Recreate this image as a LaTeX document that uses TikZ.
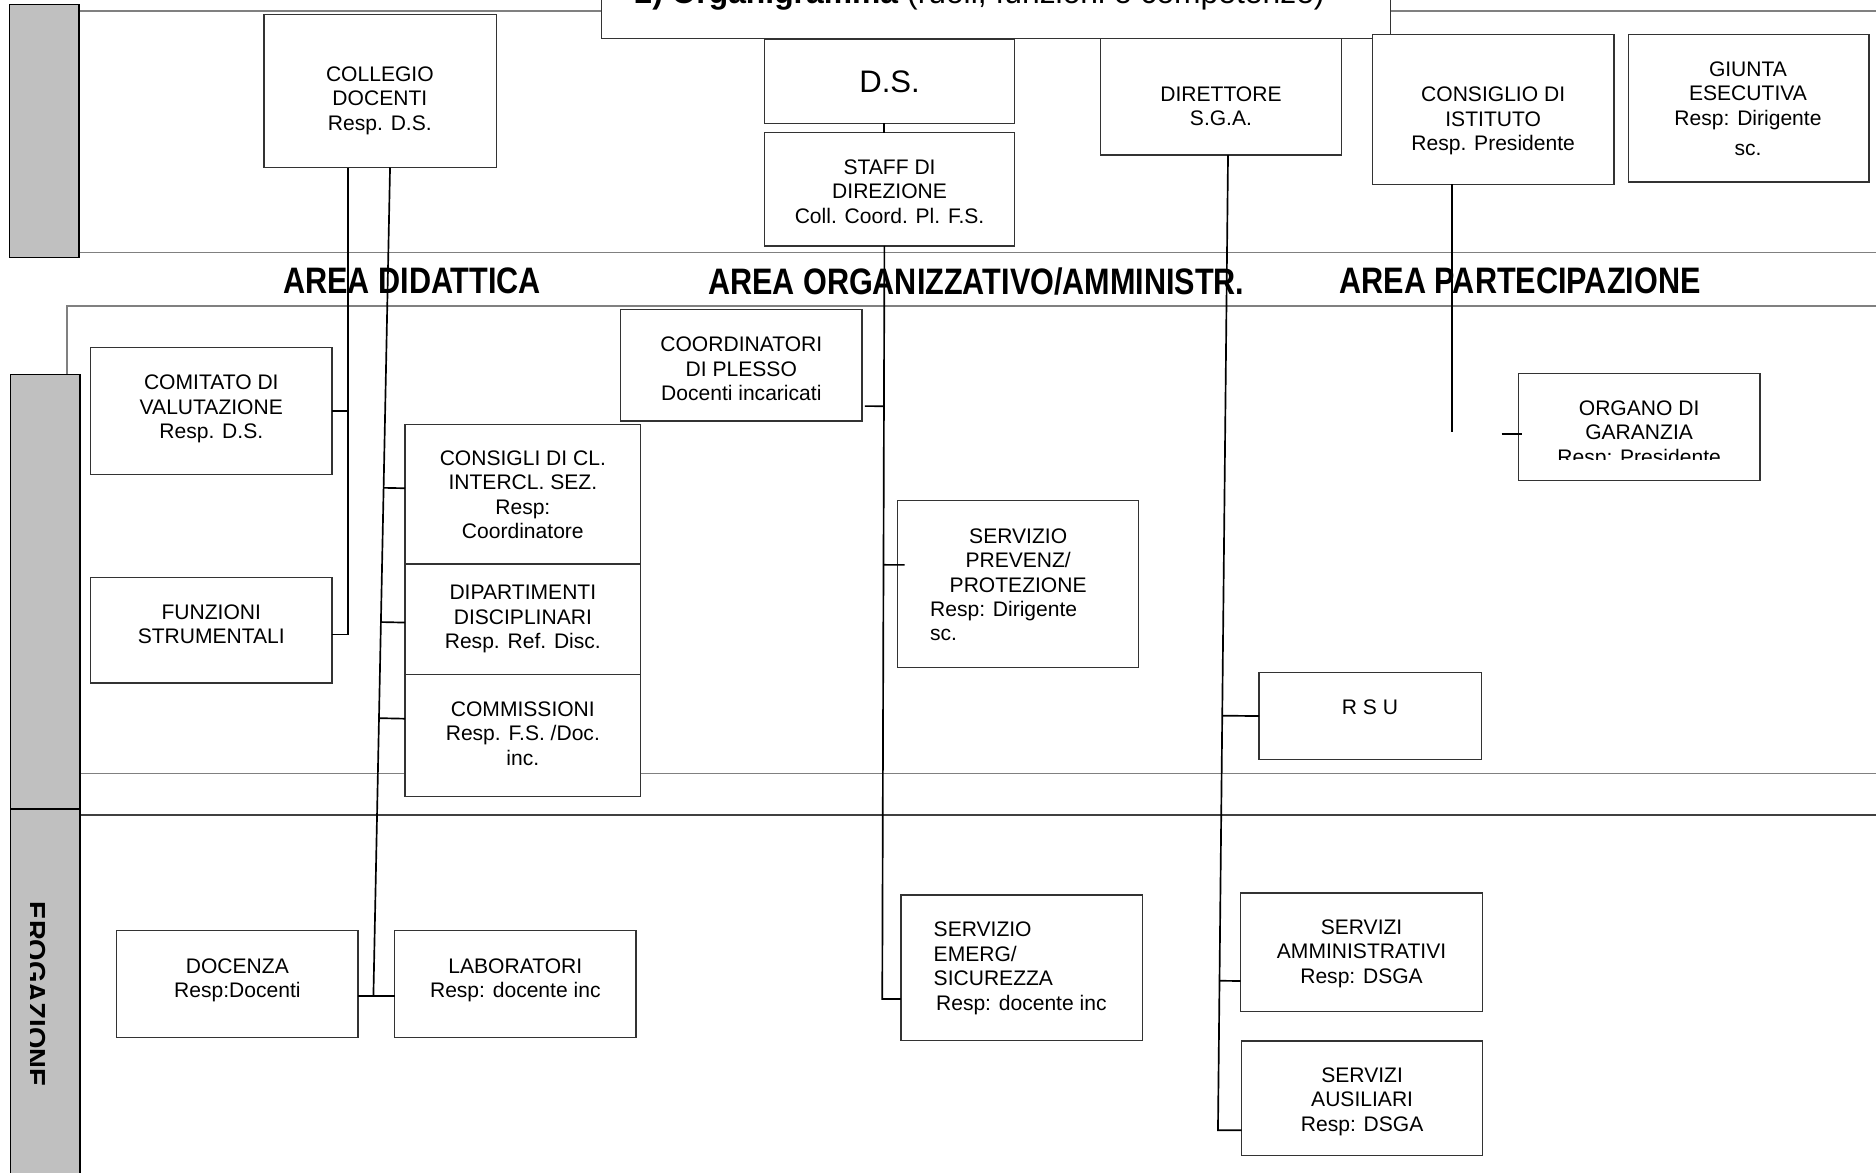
\documentclass[tikz,border=0pt]{standalone}
\usepackage{fontspec}
\usepackage{graphicx}
\setmainfont{Liberation Sans}
\usetikzlibrary{calc}
\definecolor{barfill}{HTML}{C0C0C0}
\tikzset{
  bx/.style={draw=black!80, line width=0.55pt, fill=white, inner sep=0pt, outer sep=0pt},
  lbl/.style={anchor=base, align=center, inner sep=0pt, font=\fontsize{8.8}{10.2}\selectfont},
  lbll/.style={anchor=base west, align=left, inner sep=0pt, font=\fontsize{8.8}{10.2}\selectfont},
  conn/.style={draw=black, line width=0.7pt},
  band/.style={draw=black!50, line width=0.7pt},
  bandd/.style={draw=black!75, line width=0.7pt},
  bar/.style={fill=barfill, draw=black, line width=0.6pt},
  area/.style={font=\fontsize{15.4}{16}\selectfont\bfseries, inner sep=0pt},
}
\newcommand\mkbox[5]{\node[bx, minimum width={(#4-#2)*0.5pt}, minimum height={(#5-#3)*0.5pt}] (#1) at ({(#2+#4)/2},{(#3+#5)/2}) {};}
\begin{document}
\begin{tikzpicture}[x=0.5pt,y=-0.5pt]
\useasboundingbox (0,0) rectangle (1568,980);
\fill[white] (0,0) rectangle (1568,980);
% band lines
\draw[band] (66,9.2) -- (1573,9.2);
\draw[band] (66,211) -- (1573,211);
\draw[band] (56,313) -- (56,256) -- (1573,256);
\draw[band] (67,646.5) -- (1573,646.5);
\draw[bandd] (67,681) -- (1573,681);
% grey side bars
\draw[bar] (8,3.9) rectangle (66,215);
\draw[bar] (9,313) rectangle (67,676);
\draw[bar] (9,676) rectangle (67,990);
\begin{scope}
\clip (25.5,676) rectangle (67,980);
\node[anchor=base, rotate=-90, inner sep=0pt, font=\fontsize{11.5}{12}\selectfont\bfseries] (erog) at (22,831) {EROGAZIONE};
\end{scope}
% title
\mkbox{titlebox}{503}{-10}{1162}{32}
\node[anchor=base west, inner sep=0pt, font=\fontsize{13.3}{14}\selectfont] (title) at (530,3) {\textbf{2) Organigramma} (ruoli, funzioni e competenze)};
% boxes
\mkbox{collegio}{220.6}{12.3}{414.8}{140}
\mkbox{ds}{639}{33}{848}{103}
\mkbox{staff}{639}{111}{848}{205.5}
\mkbox{direttore}{920}{32}{1121}{129.6}
\mkbox{consiglio}{1147}{29}{1349}{154}
\mkbox{giunta}{1361}{28.7}{1562}{152}
\mkbox{comitato}{75.7}{290.5}{277.6}{396.4}
\mkbox{funzioni}{75.7}{482.5}{277.6}{570.8}
\mkbox{consigli}{338.5}{354.7}{535.5}{471.5}
\mkbox{dipart}{338.5}{471.5}{535.5}{564}
\mkbox{commiss}{338.5}{564}{535.5}{665.8}
\mkbox{coord}{518.7}{258.5}{720.5}{352}
\mkbox{prevenz}{750}{418.5}{951.8}{557.8}
\mkbox{rsu}{1052.4}{562}{1238}{635}
\mkbox{organo}{1269.3}{312.3}{1471}{401.5}
\mkbox{docenza}{97.4}{778}{299.3}{867}
\mkbox{labor}{329.8}{778}{531.7}{867}
\mkbox{emerg}{753}{748}{954.8}{869.6}
\mkbox{ammin}{1037}{746.5}{1239}{845.4}
\mkbox{ausil}{1037.7}{870}{1239.3}{966}
% texts (anchor = baseline of the last line)
\node[lbl] (collegio-t) at (317.5,108.9) {COLLEGIO\\DOCENTI\\Resp. D.S.};
\node[inner sep=0pt, font=\fontsize{13}{14}\selectfont] (ds-t) at (743.5,68) {D.S.};
\node[lbl] (staff-t) at (743.5,186.4) {STAFF DI\\DIREZIONE\\Coll. Coord. Pl. F.S.};
\node[lbl] (direttore-t) at (1020.5,105.3) {DIRETTORE\\S.G.A.};
\node[lbl] (consiglio-t) at (1248,125.9) {CONSIGLIO DI\\ISTITUTO\\Resp. Presidente};
\node[lbl] (giunta-t) at (1461,130.2) {GIUNTA\\ESECUTIVA\\Resp: Dirigente\\[2.5pt]sc.};
\node[lbl] (comitato-t) at (176.6,366.6) {COMITATO DI\\VALUTAZIONE\\Resp. D.S.};
\node[lbl] (funzioni-t) at (176.6,537.9) {FUNZIONI\\STRUMENTALI};
\node[lbl] (consigli-t) at (437,450.3) {CONSIGLI DI CL.\\INTERCL. SEZ.\\Resp:\\Coordinatore};
\node[lbl] (dipart-t) at (437,542.1) {DIPARTIMENTI\\DISCIPLINARI\\Resp. Ref. Disc.};
\node[lbl] (commiss-t) at (437,639.5) {COMMISSIONI\\Resp. F.S. /Doc.\\inc.};
\node[lbl] (coord-t) at (619.6,334.9) {COORDINATORI\\DI PLESSO\\Docenti incaricati};
\node[lbl] (prevenz-t) at (851,495.1) {SERVIZIO\\PREVENZ/\\PROTEZIONE};
\node[lbll] (prevenz-r) at (777,535.7) {Resp: Dirigente\\sc.};
\node[lbl] (rsu-t) at (1145,597.3) {R S U};
\begin{scope}
\clip (1269.3,312.3) rectangle (1471,383.7);
\node[lbl] (organo-t) at (1370,388.1) {ORGANO DI\\GARANZIA\\Resp: Presidente};
\end{scope}
\node[lbl] (docenza-t) at (198.4,833.7) {DOCENZA\\Resp:Docenti};
\node[lbl] (labor-t) at (430.7,833.7) {LABORATORI\\Resp: docente inc};
\node[lbll] (emerg-t) at (780,823.9) {SERVIZIO\\EMERG/\\SICUREZZA};
\node[lbll] (emerg-r) at (782,844.3) {Resp: docente inc};
\node[lbl] (ammin-t) at (1138,821.7) {SERVIZI\\AMMINISTRATIVI\\Resp: DSGA};
\node[lbl] (ausil-t) at (1138.5,945.6) {SERVIZI\\AUSILIARI\\Resp: DSGA};
% area labels
\node[area] (areaD) at (344.5,235) {\scalebox{0.83}[1]{AREA DIDATTICA}};
\node[area] (areaO) at (816,235) {\scalebox{0.83}[1]{AREA ORGANIZZATIVO/AMMINISTR.}};
\node[area] (areaP) at (1270.5,235) {\scalebox{0.83}[1]{AREA PARTECIPAZIONE}};
% connectors
\coordinate (xA) at (290.6,0);
\coordinate (xB) at (326,0);
\draw[conn] (collegio.south -| xA) |- ([yshift=-1.9pt]funzioni.east);
\draw[conn] (comitato.east) -- (comitato.east -| xA);
\coordinate (bBtop) at (collegio.south -| xB);
\coordinate (bBbot) at ($([yshift=-4.85pt]docenza.east)!0.42!([yshift=-4.85pt]labor.west)$);
\draw[conn] (bBtop) -- (bBbot);
\draw[conn] ([yshift=-4.85pt]docenza.east) -- ([yshift=-4.85pt]labor.west);
\draw[conn] ($(bBtop)!([yshift=2.5pt]consigli.west)!(bBbot)$) -- ([yshift=2.5pt]consigli.west);
\draw[conn] ($(bBtop)!([yshift=-1.3pt]dipart.west)!(bBbot)$) -- ([yshift=-1.3pt]dipart.west);
\draw[conn] ($(bBtop)!([yshift=7.1pt]commiss.west)!(bBbot)$) -- ([yshift=7.1pt]commiss.west);
\draw[conn] ([xshift=-2.25pt]ds.south) -- ([xshift=-2.25pt]staff.north);
\coordinate (cTop) at ([xshift=-2.15pt]staff.south);
\coordinate (cBot) at ([shift={(-7.8pt,-13.1pt)}]emerg.west);
\draw[conn] (cTop) -- (cBot) -- ([yshift=-13.1pt]emerg.west);
\draw[conn] ([shift={(1.2pt,-17.1pt)}]coord.east) -- ($(cTop)!([yshift=-17.1pt]coord.east)!(cBot)$);
\draw[conn] ($(cTop)!([shift={(3pt,8pt)}]prevenz.west)!(cBot)$) -- ([shift={(3pt,8pt)}]prevenz.west);
\coordinate (dTop) at ([xshift=2.95pt]direttore.south);
\coordinate (dBot) at ([shift={(-9.85pt,-13.3pt)}]ausil.west);
\draw[conn] (dTop) -- (dBot) -- ([yshift=-13.3pt]ausil.west);
\draw[conn] ($(dTop)!(rsu.west)!(dBot)$) -- (rsu.west);
\draw[conn] ($(dTop)!([yshift=-12pt]ammin.west)!(dBot)$) -- ([yshift=-12pt]ammin.west);
\draw[conn] ([xshift=-17.3pt]consiglio.south) -- ++(0pt,-103.65pt);
\draw[conn] ([shift={(-7.15pt,-3pt)}]organo.west) -- ([shift={(1.35pt,-3pt)}]organo.west);
\end{tikzpicture}
\end{document}
